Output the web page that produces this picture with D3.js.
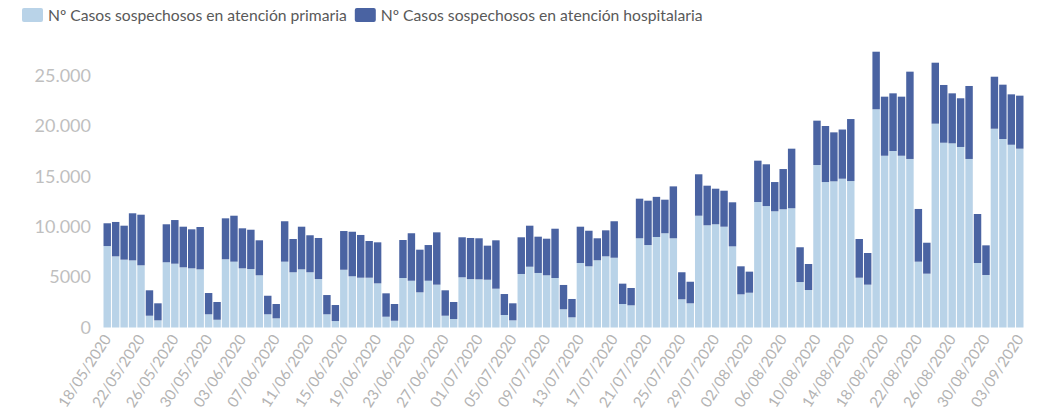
<!DOCTYPE html>
<html>
<head>
<meta charset="utf-8">
<script src="https://cdn.jsdelivr.net/npm/d3@7"></script>
<style>
  body { margin: 0; background: #fff; }
  svg { font-family: Lato, "Open Sans", sans-serif; }
</style>
</head>
<body>
<svg id="chart"></svg>
<script>
const seriesNames = ["Nº Casos sospechosos en atención primaria", "Nº Casos sospechosos en atención hospitalaria"];
const firstDay = new Date(2020, 4, 18);
const lastDay = new Date(2020, 8, 3);

const primaria = [8080, 7060, 6730, 6660, 6170, 1170, 710, 6470, 6330, 5970, 5870, 5770, 1310, 770,
  6770, 6530, 5870, 5800, 5180, 1310, 910, 6530, 5480, 5770, 5480, 4810, 1310, 640,
  5730, 5080, 4940, 4940, 4380, 1070, 670, 4910, 4640, 3490, 4640, 4250, 1170, 840,
  4980, 4800, 4780, 4740, 3850, 1240, 710, 5310, 6030, 5410, 5180, 4910, 1810, 1010,
  6400, 6070, 6670, 7060, 6920, 2330, 2200, 8850, 8180, 8980, 9350, 8850, 2800, 2400,
  11090, 10140, 10240, 10000, 8050, 3290, 3450, 12450, 12050, 11530, 11730, 11830, 4510, 3720,
  16120, 14430, 14500, 14760, 14530, 4940, 4250, 21650, 17040, 17510, 17040, 16720, 6530, 5340,
  20220, 18330, 18270, 17910, 16720, 6400, 5210, 19720, 18700, 18130, 17740];
const hospitalaria = [2260, 3410, 3370, 4670, 5020, 2520, 1690, 3770, 4330, 4030, 3870, 4200, 2110, 1760,
  4060, 4560, 3970, 3900, 3470, 1840, 1420, 4010, 3300, 4230, 3670, 4070, 1910, 1590,
  3840, 4420, 4240, 3640, 4070, 2320, 1660, 3770, 4710, 4230, 3540, 5190, 2520, 1690,
  3970, 4080, 4070, 3380, 4800, 2080, 1690, 3640, 4070, 3600, 3630, 4890, 2410, 1820,
  3600, 3530, 2180, 2580, 3620, 2020, 1720, 3930, 4400, 3980, 3330, 5150, 2680, 2140,
  4110, 3930, 3530, 3570, 4370, 2780, 2090, 4100, 4140, 2900, 3990, 5910, 3450, 2580,
  4400, 5560, 4860, 4880, 6150, 3840, 3140, 5710, 5860, 5720, 5860, 8660, 5230, 3070,
  6050, 5730, 4960, 4830, 7240, 4860, 2940, 5160, 5390, 5000, 5260];
const yTicks = [0, 5000, 10000, 15000, 20000, 25000];
const yTickLabels = ["0", "5000", "10.000", "15.000", "20.000", "25.000"];
const colors = ["#b9d3e8", "#4a63a2"];

const width = 1046, height = 417;
const days = d3.timeDay.range(firstDay, d3.timeDay.offset(lastDay, 1));
const fmt = d3.timeFormat("%d/%m/%Y");
const rows = days.map((d, i) => ({ day: fmt(d), primaria: primaria[i], hospitalaria: hospitalaria[i] }));

const svg = d3.select("#chart").attr("width", width).attr("height", height);

const x = d3.scaleBand()
  .domain(rows.map(d => d.day))
  .range([103, 1024])
  .paddingInner(0.12)
  .paddingOuter(0.06);
const y = d3.scaleLinear()
  .domain([0, 25000])
  .range([327.5, 75.5]);

const stack = d3.stack().keys(["primaria", "hospitalaria"]);
const layers = stack(rows);

svg.append("g").selectAll("g")
  .data(layers)
  .join("g")
    .attr("fill", (d, i) => colors[i])
  .selectAll("rect")
  .data(d => d)
  .join("rect")
    .attr("x", d => x(d.data.day))
    .attr("width", x.bandwidth())
    .attr("y", d => y(d[1]))
    .attr("height", d => y(d[0]) - y(d[1]));

// y axis: labels only
const yAxis = d3.axisLeft(y)
  .tickValues(yTicks)
  .tickFormat((d, i) => yTickLabels[i])
  .tickSize(0)
  .tickPadding(0);
const gy = svg.append("g")
  .attr("transform", "translate(91,0)")
  .call(yAxis);
gy.select(".domain").remove();
gy.selectAll("text")
  .attr("fill", "#bfbfbf")
  .style("font-size", "18px")
  .style("font-family", "Lato, 'Open Sans', sans-serif");

// x axis: every 4th day, rotated
const xAxis = d3.axisBottom(x)
  .tickValues(rows.filter((d, i) => i % 4 === 0).map(d => d.day))
  .tickSize(0)
  .tickPadding(0);
const gx = svg.append("g")
  .attr("transform", "translate(0,336)")
  .call(xAxis);
gx.select(".domain").remove();
gx.selectAll("text")
  .attr("fill", "#b3b3b3")
  .style("font-size", "15px")
  .style("font-family", "Lato, 'Open Sans', sans-serif")
  .attr("text-anchor", "end")
  .attr("dy", "0.35em")
  .attr("transform", "translate(0,0) rotate(-57)");

// legend
const legend = svg.append("g").attr("transform", "translate(22,15)");
let lx = 0;
seriesNames.forEach((name, i) => {
  const g = legend.append("g").attr("transform", `translate(${lx},0)`);
  g.append("rect").attr("x", 0).attr("y", -7).attr("width", 21).attr("height", 14).attr("rx", 2).attr("fill", colors[i]);
  const t = g.append("text")
    .attr("x", 26).attr("y", 0).attr("dy", "0.35em")
    .attr("fill", "#595959")
    .style("font-size", "15.7px")
    .text(name);
  lx += 26 + t.node().getComputedTextLength() + 8;
});
</script>
</body>
</html>
